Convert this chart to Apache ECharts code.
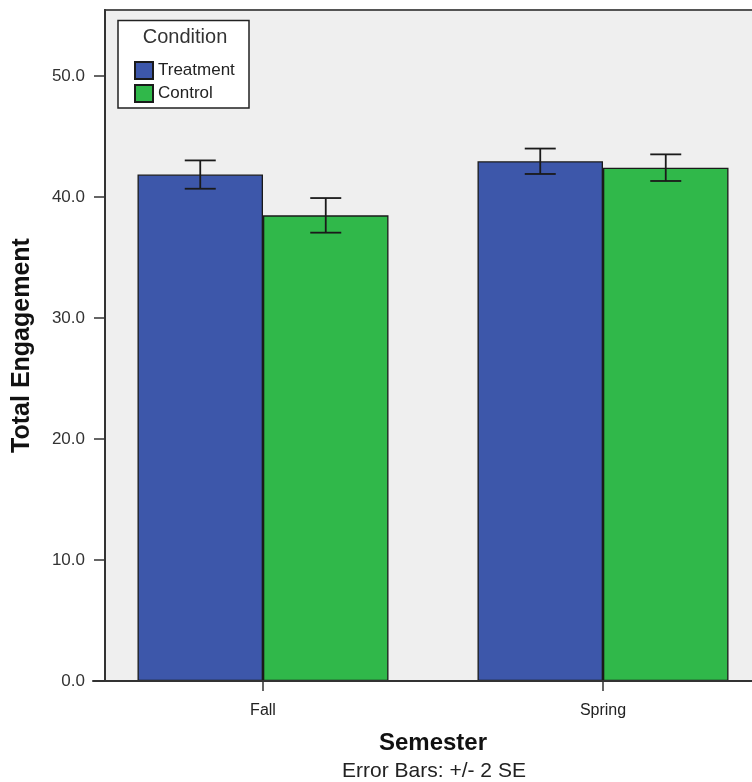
<!DOCTYPE html>
<html>
<head>
<meta charset="utf-8">
<script src="https://cdn.jsdelivr.net/npm/echarts@6/dist/echarts.min.js"></script>
<style>
html,body{margin:0;padding:0;background:#fff;}
#chart{width:752px;height:782px;}
</style>
</head>
<body>
<div id="chart"></div>
<script>
// ---- data ----
const semesters = ['Fall', 'Spring'];
const seriesNames = ['Treatment', 'Control'];
const treatmentMeans = [41.85, 42.95];
const controlMeans = [38.48, 42.42];
const treatmentErr2SE = [1.17, 1.05];
const controlErr2SE = [1.43, 1.10];
const yTicks = [0, 10, 20, 30, 40, 50];
const yMax = 55.45;

const colors = ['#3d57aa', '#30b84a'];
const barW = 125.5;
const FONT = 'Liberation Sans, Arial, sans-serif';

const chart = echarts.init(document.getElementById('chart'));

function errSeries(means, errs, offset, name) {
  return {
    type: 'custom',
    name: name + ' error',
    z: 5,
    silent: true,
    data: means.map((m, i) => [i, m - errs[i], m + errs[i]]),
    renderItem: function (params, api) {
      const lo = api.coord([api.value(0), api.value(1)]);
      const hi = api.coord([api.value(0), api.value(2)]);
      const x = lo[0] + offset;
      const cap = 15.5;
      const st = { stroke: '#1a1a1a', lineWidth: 1.8 };
      return {
        type: 'group',
        children: [
          { type: 'line', shape: { x1: x, y1: lo[1], x2: x, y2: hi[1] }, style: st },
          { type: 'line', shape: { x1: x - cap, y1: lo[1], x2: x + cap, y2: lo[1] }, style: st },
          { type: 'line', shape: { x1: x - cap, y1: hi[1], x2: x + cap, y2: hi[1] }, style: st }
        ]
      };
    }
  };
}

const option = {
  animation: false,
  textStyle: { fontFamily: FONT },
  grid: { left: 93, top: 10, width: 680, height: 671, containLabel: false, outerBoundsMode: 'none' },
  graphic: [
    { type: 'rect', z: -10, silent: true,
      shape: { x: 105, y: 10, width: 700, height: 671 },
      style: { fill: '#efefef', stroke: '#555', lineWidth: 2 } },
    { type: 'rect', z: 100, silent: true,
      shape: { x: 118, y: 20.5, width: 131, height: 87.5 },
      style: { fill: '#ffffff', stroke: '#222', lineWidth: 1.5 } },
    { type: 'text', z: 101, silent: true, x: 185, y: 37,
      style: { text: 'Condition', fontSize: 20, fill: '#333', align: 'center', verticalAlign: 'middle',
               fontFamily: FONT } },
    { type: 'text', z: 101, silent: true, x: 434, y: 771,
      style: { text: 'Error Bars: +/- 2 SE', fontSize: 21, fill: '#222', align: 'center', verticalAlign: 'middle',
               fontFamily: FONT } }
  ],
  legend: {
    show: true,
    orient: 'vertical',
    left: 134, top: 61,
    padding: 0,
    itemGap: 4,
    itemWidth: 18, itemHeight: 17,
    icon: 'rect',
    z: 102,
    data: seriesNames,
    textStyle: { fontSize: 17, color: '#222', fontFamily: FONT },
    selectedMode: false
  },
  xAxis: {
    type: 'category',
    data: semesters,
    boundaryGap: true,
    name: 'Semester',
    nameLocation: 'middle',
    nameGap: 50,
    nameTextStyle: { fontSize: 24, fontWeight: 'bold', color: '#111' },
    axisLine: { show: true, lineStyle: { color: '#333', width: 2 } },
    axisTick: { show: true, alignWithLabel: true, length: 10, lineStyle: { color: '#333', width: 1.5 } },
    axisLabel: { fontSize: 16, color: '#222', margin: 22 },
    splitLine: { show: false },
    z: 20
  },
  yAxis: {
    type: 'value',
    min: 0,
    max: yMax,
    interval: 10,
    offset: -12,
    name: 'Total Engagement',
    nameLocation: 'middle',
    nameGap: 70,
    nameRotate: 90,
    nameTextStyle: { fontSize: 25, fontWeight: 'bold', color: '#111' },
    axisLine: { show: true, lineStyle: { color: '#333', width: 2 } },
    axisTick: { show: true, length: 11, customValues: yTicks, lineStyle: { color: '#333', width: 1.5 } },
    axisLabel: { fontSize: 17, color: '#333', margin: 20, customValues: yTicks,
                 formatter: v => v.toFixed(1) },
    splitLine: { show: false },
    z: 20
  },
  series: [
    { type: 'bar', name: seriesNames[0], data: treatmentMeans, barWidth: barW, barGap: '0%',
      itemStyle: { color: colors[0], borderColor: '#1a1a1a', borderWidth: 1.3 }, z: 3 },
    { type: 'bar', name: seriesNames[1], data: controlMeans, barWidth: barW, barGap: '0%',
      itemStyle: { color: colors[1], borderColor: '#1a1a1a', borderWidth: 1.3 }, z: 3 },
    errSeries(treatmentMeans, treatmentErr2SE, -barW / 2, seriesNames[0]),
    errSeries(controlMeans, controlErr2SE, barW / 2, seriesNames[1])
  ]
};
chart.setOption(option);
</script>
</body>
</html>
